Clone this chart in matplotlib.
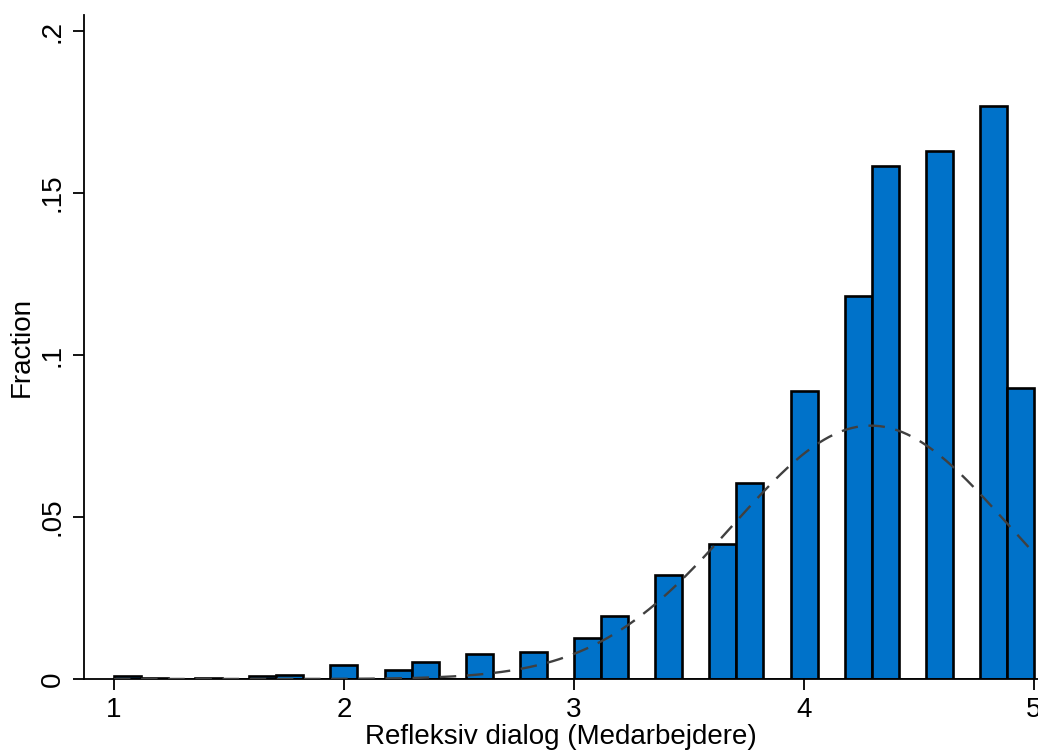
import numpy as np
import matplotlib
matplotlib.use("Agg")
from matplotlib import pyplot as plt

# histogram of "Refleksiv dialog (Medarbejdere)", 34 bins between 1 and 5
x_min = 1.0
x_max = 5.0
n_bins = 34
fractions = [0.0010, 0.0003, 0.0, 0.0003, 0.0, 0.0008, 0.0013, 0.0, 0.0042, 0.0,
             0.0028, 0.0052, 0.0, 0.0076, 0.0, 0.0084, 0.0, 0.0128, 0.0196, 0.0,
             0.0320, 0.0, 0.0418, 0.0604, 0.0, 0.0890, 0.0, 0.1182, 0.1585, 0.0,
             0.1630, 0.0, 0.1768, 0.0898]
# normal overlay (mean / sd of the variable)
norm_mean = 4.29
norm_sd = 0.60
x_ticks = [1, 2, 3, 4, 5]
y_ticks = [0, 0.05, 0.1, 0.15, 0.2]
y_ticklabels = ["0", ".05", ".1", ".15", ".2"]

plt.rcParams['font.family'] = ['Liberation Sans', 'DejaVu Sans']

fig = plt.figure(figsize=(10.38, 7.54), dpi=100)
ax = fig.add_axes([84 / 1038, 75 / 754, 954 / 1038, 664 / 754])

edges = np.linspace(x_min, x_max, n_bins + 1)
width = edges[1] - edges[0]
ax.bar(edges[:-1], fractions, width=width, align='edge', color='#0072C9',
       edgecolor='black', linewidth=1.9, zorder=2)

# fitted normal density, scaled to fractions per bin
xs = np.linspace(x_min, x_max, 400)
dens = width * np.exp(-0.5 * ((xs - norm_mean) / norm_sd) ** 2) / (norm_sd * np.sqrt(2 * np.pi))
ax.plot(xs, dens, color='#404040', linewidth=1.7, linestyle=(0, (7, 4.5)), zorder=3)

ax.set_xlim(0.87, 5.017)
ax.set_ylim(0, 0.205)
ax.set_xticks(x_ticks)
ax.set_yticks(y_ticks)
ax.set_yticklabels(y_ticklabels, rotation=90, va='center')
ax.tick_params(axis='both', labelsize=20, length=8, width=1.3, direction='out', pad=5)
ax.spines['top'].set_visible(False)
ax.spines['right'].set_visible(False)
ax.spines['left'].set_linewidth(1.3)
ax.spines['bottom'].set_linewidth(1.3)
ax.set_xlabel("Refleksiv dialog (Medarbejdere)", fontsize=20, labelpad=1)
ax.set_ylabel("Fraction", fontsize=20, labelpad=4)

fig.savefig("out.png", dpi=100)
